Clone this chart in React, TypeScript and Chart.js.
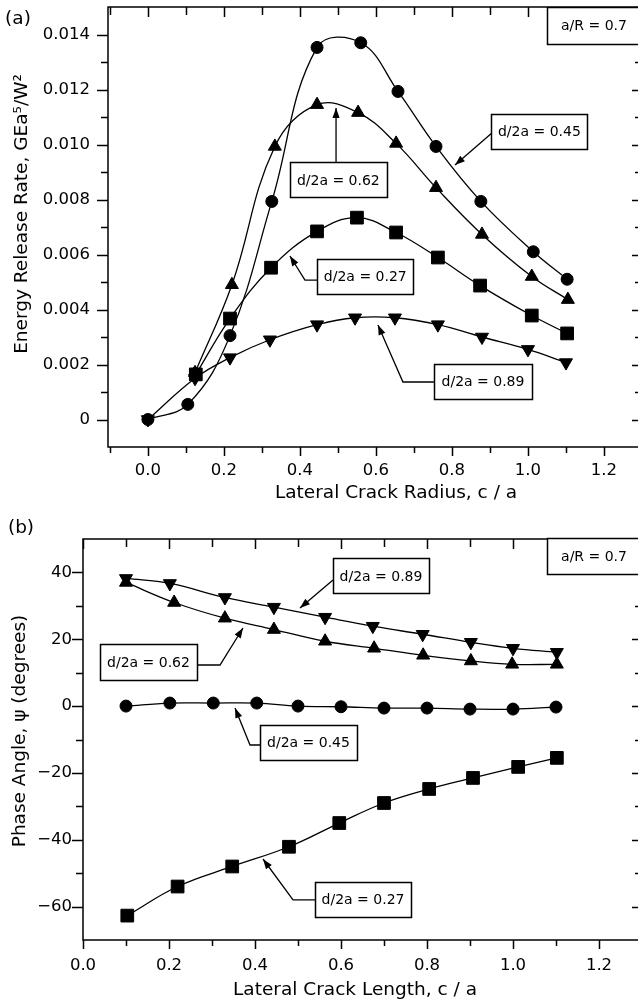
import React, { useEffect, useRef } from "react";
import { Chart, registerables } from "chart.js";

Chart.register(...registerables);

// ---------- Panel (a): Energy release rate vs lateral crack radius ----------
const aX045 = [0, 0.105, 0.216, 0.326, 0.445, 0.56, 0.658, 0.758, 0.876, 1.014, 1.103];
const aY045 = [0, 0.00055, 0.00305, 0.00793, 0.01353, 0.0137, 0.01193, 0.00993, 0.00793, 0.0061, 0.0051];
const aX062 = [0.124, 0.221, 0.334, 0.445, 0.553, 0.653, 0.758, 0.879, 1.01, 1.105];
const aY062 = [0.0017, 0.0049, 0.00993, 0.01145, 0.01116, 0.01004, 0.00843, 0.00673, 0.0052, 0.00436];
const aX027 = [0.126, 0.216, 0.324, 0.445, 0.55, 0.653, 0.763, 0.874, 1.01, 1.103];
const aY027 = [0.00164, 0.00367, 0.00552, 0.00684, 0.00734, 0.0068, 0.00589, 0.00487, 0.00378, 0.00313];
const aX089 = [0, 0.124, 0.216, 0.321, 0.445, 0.545, 0.65, 0.763, 0.879, 1.0, 1.1];
const aY089 = [0, 0.0015, 0.00225, 0.0029, 0.00345, 0.0037, 0.0037, 0.00345, 0.003, 0.00255, 0.00207];

const aXMajor = [0, 0.2, 0.4, 0.6, 0.8, 1.0, 1.2];
const aXMinor = [-0.1, 0.1, 0.3, 0.5, 0.7, 0.9, 1.1];
const aYMajor = [0, 0.002, 0.004, 0.006, 0.008, 0.01, 0.012, 0.014];
const aYMinor = [0.001, 0.003, 0.005, 0.007, 0.009, 0.011, 0.013];

// ---------- Panel (b): Phase angle vs lateral crack length ----------
const bX089 = [0.1, 0.202, 0.33, 0.444, 0.563, 0.674, 0.79, 0.902, 1.0, 1.102];
const bY089 = [38.2, 36.7, 32.5, 29.6, 26.6, 23.9, 21.5, 19.1, 17.3, 16.1];
const bX062 = [0.1, 0.212, 0.33, 0.444, 0.563, 0.677, 0.791, 0.902, 0.998, 1.102];
const bY062 = [37.0, 31.0, 26.3, 22.9, 19.4, 17.3, 15.2, 13.5, 12.5, 12.5];
const bX045 = [0.1, 0.202, 0.303, 0.404, 0.5, 0.6, 0.7, 0.8, 0.9, 1.0, 1.1];
const bY045 = [0, 0.9, 0.9, 0.9, 0, -0.2, -0.6, -0.6, -0.9, -0.9, -0.3];
const bX027 = [0.103, 0.22, 0.347, 0.479, 0.596, 0.7, 0.805, 0.907, 1.012, 1.102];
const bY027 = [-62.7, -54, -48, -42.1, -35, -29, -24.8, -21.5, -18.2, -15.5];

const bXMajor = [0, 0.2, 0.4, 0.6, 0.8, 1.0, 1.2];
const bXMinor = [0.1, 0.3, 0.5, 0.7, 0.9, 1.1];
const bYMajor = [-60, -40, -20, 0, 20, 40];
const bYMinor = [-50, -30, -10, 10, 30];

// ---------- Annotation labels (data coordinates) ----------
type Note = { text: string; x: number; y: number; w: number; h: number; arrow?: number[][] };

const aNotes: Note[] = [
  { text: "d/2a = 0.45", x: 1.03, y: 0.01049, w: 96, h: 35, arrow: [[0.905, 0.01042], [0.808, 0.009255]] },
  { text: "d/2a = 0.62", x: 0.501, y: 0.00871, w: 97, h: 35, arrow: [[0.495, 0.009327], [0.495, 0.01133]] },
  { text: "d/2a = 0.27", x: 0.572, y: 0.0052, w: 96, h: 35, arrow: [[0.4474, 0.00507], [0.4132, 0.00507], [0.3737, 0.005945]] },
  { text: "d/2a = 0.89", x: 0.8816, y: 0.0014, w: 98, h: 35, arrow: [[0.7526, 0.001364], [0.671, 0.001364], [0.6053, 0.003436]] },
  { text: "a/R = 0.7", x: 1.1737, y: 0.01433, w: 94, h: 37 },
];

const bNotes: Note[] = [
  { text: "d/2a = 0.89", x: 0.693, y: 38.93, w: 96, h: 35, arrow: [[0.5814, 37.74], [0.5047, 29.36]] },
  { text: "d/2a = 0.62", x: 0.1523, y: 13.2, w: 97, h: 36, arrow: [[0.2651, 12.3], [0.3186, 12.3], [0.3721, 23.37]] },
  { text: "d/2a = 0.45", x: 0.5244, y: -10.89, w: 97, h: 35, arrow: [[0.4116, -11.64], [0.3884, -11.64], [0.3535, -0.57]] },
  { text: "d/2a = 0.27", x: 0.6512, y: -57.87, w: 96, h: 35, arrow: [[0.5395, -58.02], [0.4884, -58.02], [0.4186, -45.76]] },
  { text: "a/R = 0.7", x: 1.1884, y: 44.77, w: 94, h: 36 },
];

const FONT = '"DejaVu Sans", sans-serif';

type Series = { xs: number[]; ys: number[]; style: string; rot: number; r: number };

type Panel = {
  height: number;
  padTop: number;
  yAxisWidth: number;
  xAxisHeight: number;
  xMin: number; xMax: number; yMin: number; yMax: number;
  xMajor: number[]; xMinor: number[]; yMajor: number[]; yMinor: number[];
  yFmt: (v: number) => string;
  yPad: number; xPad: number;
  series: Series[];
  notes: Note[];
  label: string; labelPos: number[];
  xTitle: string; xTitlePos: number[];
  yTitle: string; yTitlePos: number[];
};

const panelA: Panel = {
  height: 500, padTop: 7, yAxisWidth: 108, xAxisHeight: 53,
  xMin: -0.105, xMax: 1.3, yMin: -0.001, yMax: 0.015,
  xMajor: aXMajor, xMinor: aXMinor, yMajor: aYMajor, yMinor: aYMinor,
  yFmt: (v) => (v === 0 ? "0" : v.toFixed(3)),
  yPad: 18, xPad: 14,
  series: [
    { xs: aX045, ys: aY045, style: "circle", rot: 0, r: 6 },
    { xs: aX062, ys: aY062, style: "triangle", rot: 0, r: 7.5 },
    { xs: aX027, ys: aY027, style: "rect", rot: 0, r: 9 },
    { xs: aX089, ys: aY089, style: "triangle", rot: 180, r: 7.5 },
  ],
  notes: aNotes,
  label: "(a)", labelPos: [18, 19],
  xTitle: "Lateral Crack Radius, c / a", xTitlePos: [396, 493],
  yTitle: "Energy Release Rate, GEa\u2075/W\u00B2", yTitlePos: [22, 214],
};

const panelB: Panel = {
  height: 503, padTop: 39, yAxisWidth: 83, xAxisHeight: 63,
  xMin: 0, xMax: 1.3, yMin: -70, yMax: 50,
  xMajor: bXMajor, xMinor: bXMinor, yMajor: bYMajor, yMinor: bYMinor,
  yFmt: (v) => String(v).replace("-", "\u2212"),
  yPad: 11, xPad: 16,
  series: [
    { xs: bX089, ys: bY089, style: "triangle", rot: 180, r: 7.5 },
    { xs: bX062, ys: bY062, style: "triangle", rot: 0, r: 7.5 },
    { xs: bX045, ys: bY045, style: "circle", rot: 0, r: 6 },
    { xs: bX027, ys: bY027, style: "rect", rot: 0, r: 9 },
  ],
  notes: bNotes,
  label: "(b)", labelPos: [21, 28],
  xTitle: "Lateral Crack Length, c / a", xTitlePos: [355, 490],
  yTitle: "Phase Angle, \u03C8 (degrees)", yTitlePos: [20, 231],
};

const WIDTH = 644;

function framePlugin(p: Panel) {
  return {
    id: "frame",
    afterDraw(chart: any) {
      const ctx: CanvasRenderingContext2D = chart.ctx;
      const { left, right, top, bottom } = chart.chartArea;
      const xs = chart.scales.x;
      const ys = chart.scales.y;
      ctx.save();
      ctx.strokeStyle = "#000";
      ctx.fillStyle = "#000";
      ctx.lineWidth = 1.5;
      ctx.strokeRect(left, top, right - left, bottom - top);

      ctx.beginPath();
      const xt = (vals: number[], outLen: number, inLen: number) => {
        vals.forEach((v) => {
          const px = Math.round(xs.getPixelForValue(v)) + 0.5;
          ctx.moveTo(px, bottom);
          ctx.lineTo(px, bottom + outLen);
          ctx.moveTo(px, top);
          ctx.lineTo(px, top + inLen);
        });
      };
      const yt = (vals: number[], outLen: number, inLen: number) => {
        vals.forEach((v) => {
          const py = Math.round(ys.getPixelForValue(v)) + 0.5;
          ctx.moveTo(left - outLen, py);
          ctx.lineTo(left, py);
          ctx.moveTo(right, py);
          ctx.lineTo(right - inLen, py);
        });
      };
      xt(p.xMajor, 9, 10);
      xt(p.xMinor, 6, 8);
      yt(p.yMajor, 11, 10);
      yt(p.yMinor, 7, 7);
      ctx.stroke();

      // annotations
      ctx.font = `14px ${FONT}`;
      ctx.textAlign = "center";
      ctx.textBaseline = "middle";
      p.notes.forEach((n) => {
        const cx = xs.getPixelForValue(n.x);
        const cy = ys.getPixelForValue(n.y);
        if (n.arrow) {
          const pts = n.arrow.map((q) => [xs.getPixelForValue(q[0]), ys.getPixelForValue(q[1])]);
          ctx.lineWidth = 1.3;
          ctx.beginPath();
          ctx.moveTo(pts[0][0], pts[0][1]);
          for (let i = 1; i < pts.length; i++) ctx.lineTo(pts[i][0], pts[i][1]);
          ctx.stroke();
          const a = pts[pts.length - 2];
          const b = pts[pts.length - 1];
          const ang = Math.atan2(b[1] - a[1], b[0] - a[0]);
          const L = 10, W = 3.6;
          ctx.beginPath();
          ctx.moveTo(b[0], b[1]);
          ctx.lineTo(b[0] - L * Math.cos(ang) + W * Math.sin(ang), b[1] - L * Math.sin(ang) - W * Math.cos(ang));
          ctx.lineTo(b[0] - L * Math.cos(ang) - W * Math.sin(ang), b[1] - L * Math.sin(ang) + W * Math.cos(ang));
          ctx.closePath();
          ctx.fill();
        }
        ctx.fillStyle = "#fff";
        ctx.fillRect(cx - n.w / 2, cy - n.h / 2, n.w, n.h);
        ctx.lineWidth = 1.5;
        ctx.strokeRect(Math.round(cx - n.w / 2) + 0.5, Math.round(cy - n.h / 2) + 0.5, n.w, n.h);
        ctx.fillStyle = "#000";
        ctx.fillText(n.text, cx, cy + 1);
      });

      // titles
      ctx.font = `18.5px ${FONT}`;
      ctx.fillText(p.xTitle, p.xTitlePos[0], p.xTitlePos[1]);
      ctx.fillText(p.label, p.labelPos[0], p.labelPos[1]);
      ctx.save();
      ctx.translate(p.yTitlePos[0], p.yTitlePos[1]);
      ctx.rotate(-Math.PI / 2);
      ctx.fillText(p.yTitle, 0, 0);
      ctx.restore();
      ctx.restore();
    },
  };
}

function PanelChart({ p }: { p: Panel }) {
  const ref = useRef<HTMLCanvasElement | null>(null);
  useEffect(() => {
    if (!ref.current) return;
    const tickFont = { family: FONT, size: 16.5 };
    const chart = new Chart(ref.current, {
      type: "line",
      data: {
        datasets: p.series.map((s) => ({
          data: s.xs.map((x, i) => ({ x, y: s.ys[i] })),
          borderColor: "#000",
          borderWidth: 1.3,
          backgroundColor: "#000",
          pointStyle: s.style as any,
          pointRotation: s.rot,
          pointRadius: s.r,
          pointBackgroundColor: "#000",
          pointBorderColor: "#000",
          pointBorderWidth: 1,
          tension: 0.4,
          fill: false,
          clip: false as any,
        })),
      },
      options: {
        animation: false,
        responsive: false,
        devicePixelRatio: 1,
        layout: { autoPadding: false, padding: { left: 0, top: p.padTop, right: 2, bottom: 0 } },
        plugins: { legend: { display: false }, tooltip: { enabled: false }, title: { display: false } },
        scales: {
          x: {
            type: "linear",
            min: p.xMin,
            max: p.xMax,
            grid: { display: false, drawTicks: false },
            border: { display: false },
            afterBuildTicks: (s: any) => {
              s.ticks = p.xMajor.map((v) => ({ value: v }));
            },
            afterFit: (s: any) => {
              s.height = p.xAxisHeight;
              s.paddingLeft = 0;
              s.paddingRight = 0;
              s.paddingTop = 0;
              s.paddingBottom = 0;
            },
            ticks: {
              font: tickFont,
              color: "#000",
              padding: p.xPad,
              maxRotation: 0,
              autoSkip: false,
              callback: (v: any) => Number(v).toFixed(1),
            },
          },
          y: {
            type: "linear",
            min: p.yMin,
            max: p.yMax,
            grid: { display: false, drawTicks: false },
            border: { display: false },
            afterBuildTicks: (s: any) => {
              s.ticks = p.yMajor.map((v) => ({ value: v }));
            },
            afterFit: (s: any) => {
              s.width = p.yAxisWidth;
              s.paddingLeft = 0;
              s.paddingRight = 0;
              s.paddingTop = 0;
              s.paddingBottom = 0;
            },
            ticks: {
              font: tickFont,
              color: "#000",
              padding: p.yPad,
              autoSkip: false,
              callback: (v: any) => p.yFmt(Number(v)),
            },
          },
        },
      },
      plugins: [framePlugin(p)],
    });
    return () => chart.destroy();
  }, [p]);
  return (
    <canvas
      ref={ref}
      width={WIDTH}
      height={p.height}
      style={{ display: "block", width: WIDTH, height: p.height }}
    />
  );
}

export default function App() {
  return (
    <div
      style={{
        position: "absolute",
        left: 0,
        top: 0,
        width: 638,
        height: 1003,
        overflow: "hidden",
        background: "#fff",
      }}
    >
      <PanelChart p={panelA} />
      <PanelChart p={panelB} />
    </div>
  );
}
